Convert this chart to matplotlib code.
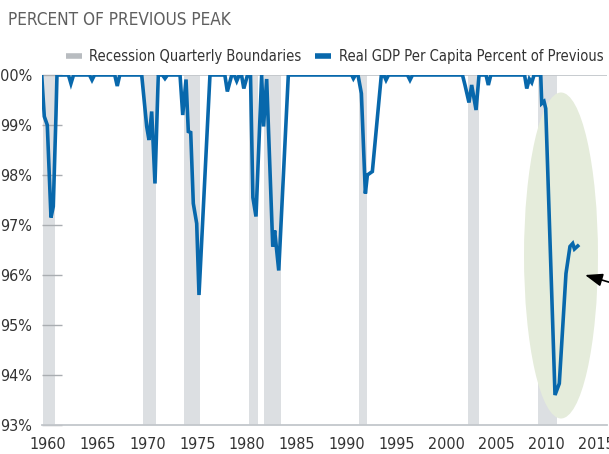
import matplotlib
matplotlib.use("Agg")
import matplotlib.pyplot as plt
from matplotlib import font_manager as fm
from matplotlib.lines import Line2D
from matplotlib.patches import Ellipse

# the source uses a condensed face; take one if the machine has it
narrow = [f for f in fm.fontManager.ttflist
          if ("narrow" in f.fname.lower() or "condensed" in f.fname.lower())
          and f.style == "normal" and f.weight in (400, "normal", "regular")]
if narrow:
    plt.rcParams["font.family"] = [narrow[0].name, "DejaVu Sans"]
    plt.rcParams["font.stretch"] = narrow[0].stretch
    SCALE = 1.0
else:
    plt.rcParams["font.family"] = ["Liberation Sans", "DejaVu Sans"]
    SCALE = 0.85

BLUE = "#0868ac"
BAND = "#dcdfe2"
AXIS_GREY = "#c3c7cb"
TEXT = "#333333"

# recession bands (in the chart's own year axis)
rec_start = [1959.52, 1969.60, 1973.68, 1980.22, 1981.69, 1991.21, 2002.16, 2009.18]
rec_end = [1960.75, 1970.87, 1975.28, 1981.12, 1983.39, 1991.98, 2003.24, 2011.02]

# real GDP per capita, percent of previous peak (breakpoints)
gdp_year = [
    1959.42, 1959.68, 1959.98, 1960.35, 1960.58, 1960.85, 1960.95,
    1962.10, 1962.35, 1962.61, 1964.21, 1964.46, 1964.71,
    1966.74, 1966.99, 1967.24,
    1969.44, 1969.94, 1970.17, 1970.44, 1970.77, 1971.10,
    1971.52, 1971.77, 1972.02,
    1973.28, 1973.55, 1973.88, 1974.11, 1974.35, 1974.61, 1974.95, 1975.18, 1976.28,
    1977.77, 1978.02, 1978.46, 1978.71, 1978.96, 1979.21, 1979.44, 1979.67, 1980.04,
    1980.34, 1980.58, 1980.89, 1981.46, 1981.65, 1981.96, 1982.57, 1982.76, 1983.17, 1984.13,
    1990.48, 1990.65, 1990.85, 1991.11, 1991.45, 1991.85, 1992.05, 1992.55, 1993.45,
    1993.70, 1993.92, 1994.17, 1996.07, 1996.32, 1996.57,
    2001.58, 2001.83, 2002.23, 2002.50, 2002.94, 2003.24,
    2003.94, 2004.17, 2004.42,
    2007.80, 2008.02, 2008.28, 2008.52, 2008.75, 2009.42,
    2009.52, 2009.75, 2009.92, 2010.85, 2011.28, 2011.95, 2012.35, 2012.62, 2012.80, 2013.13,
]
gdp_pct = [
    100.0, 99.17, 99.0, 97.15, 97.37, 99.2, 100.0,
    100.0, 99.83, 100.0, 100.0, 99.9, 100.0,
    100.0, 99.78, 100.0,
    100.0, 98.97, 98.7, 99.27, 97.83, 100.0,
    100.0, 99.93, 100.0,
    100.0, 99.2, 99.91, 98.87, 98.85, 97.43, 97.03, 95.6, 100.0,
    100.0, 99.67, 100.0, 100.0, 99.88, 100.0, 100.0, 99.73, 100.0,
    100.0, 97.55, 97.17, 100.0, 98.97, 99.92, 96.57, 96.89, 96.09, 100.0,
    100.0, 99.93, 100.0, 100.0, 99.63, 97.63, 98.0, 98.07, 100.0,
    100.0, 99.9, 100.0, 100.0, 99.9, 100.0,
    100.0, 99.8, 99.45, 99.8, 99.3, 100.0,
    100.0, 99.8, 100.0,
    100.0, 99.73, 99.92, 99.85, 100.0, 100.0,
    99.43, 99.47, 99.33, 93.6, 93.83, 96.03, 96.57, 96.63, 96.52, 96.58,
]

x_ticks = [1960, 1965, 1970, 1975, 1980, 1985, 1990, 1995, 2000, 2005, 2010, 2015]
y_ticks = [93, 94, 95, 96, 97, 98, 99, 100]

fig = plt.figure(figsize=(6.09, 4.54), dpi=100)
ax = fig.add_axes([42 / 609, 29 / 454, 565 / 609, 350 / 454])

for s, e in zip(rec_start, rec_end):
    ax.axvspan(s, e, color=BAND, lw=0, zorder=0)

# highlight of the post-2008 slump
ax.add_patch(Ellipse((2011.45, 96.39), 7.41, 6.52, facecolor="#e5ecdb", edgecolor="none", zorder=1))

ax.axhline(100, color=AXIS_GREY, lw=1.3, zorder=1.5)
ax.plot(gdp_year, gdp_pct, color=BLUE, lw=2.6, solid_joinstyle="miter", zorder=3)

ax.annotate("", xy=(2013.86, 96.0), xytext=(2017.9, 95.76), annotation_clip=False,
            arrowprops=dict(arrowstyle="-|>,head_length=0.75,head_width=0.28", color="black",
                            lw=1.2, mutation_scale=14, shrinkA=0, shrinkB=0))

ax.set_xlim(1959.45, 2016.06)
ax.set_ylim(93, 100)
ax.set_xticks(x_ticks)
ax.set_xticklabels([str(y) for y in x_ticks])
ax.set_yticks(y_ticks)
ax.set_yticklabels([f"{v}%" for v in y_ticks])
ax.tick_params(axis="x", length=0, pad=8.5, labelsize=11.5 * SCALE, labelcolor=TEXT)
ax.tick_params(axis="y", direction="in", length=14.4, width=1.0, color="#a9adb1",
               pad=7, labelsize=11.5 * SCALE, labelcolor=TEXT)
for side in ["left", "right", "top"]:
    ax.spines[side].set_visible(False)
ax.spines["bottom"].set_color(AXIS_GREY)
ax.spines["bottom"].set_linewidth(1.3)

fig.text(8 / 609, 1 - 20 / 454, "PERCENT OF PREVIOUS PEAK", fontsize=12.3 * SCALE, color="#5f5f5f",
         ha="left", va="center")

handles = [Line2D([], [], color="#b8bcc0", lw=4, solid_capstyle="butt"),
           Line2D([], [], color=BLUE, lw=4, solid_capstyle="butt")]
fig.legend(handles, ["Recession Quarterly Boundaries", "Real GDP Per Capita Percent of Previous Peak"],
           loc="center left", bbox_to_anchor=(66 / 609, 1 - 57 / 454), ncol=2, frameon=False,
           fontsize=10.5 * SCALE, labelcolor=TEXT, handlelength=1.1 / SCALE, handletextpad=0.5,
           columnspacing=0.95, borderpad=0, borderaxespad=0)

fig.savefig("out.png", dpi=100)
